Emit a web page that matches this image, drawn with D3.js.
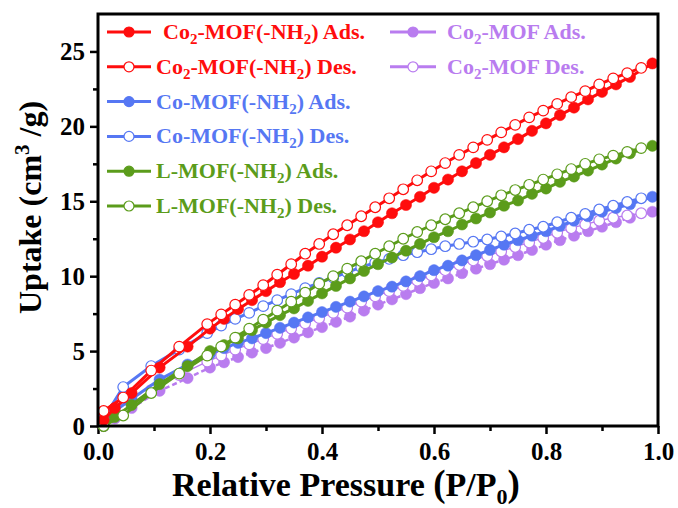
<!DOCTYPE html>
<html>
<head>
<meta charset="utf-8">
<script src="https://cdn.jsdelivr.net/npm/d3@7"></script>
<style>
  body { margin: 0; background: #fff; }
  svg text { font-family: "Liberation Serif", "Times New Roman", serif; font-weight: bold; }
</style>
</head>
<body>
<svg id="svg" width="678" height="508"></svg>
<script>
// relative pressure grids (adsorption / desorption branch)
var pAds = [0.01, 0.03, 0.06, 0.11, 0.16, 0.2, 0.225, 0.25, 0.275, 0.3, 0.325, 0.35, 0.375, 0.4, 0.425, 0.45, 0.475, 0.5, 0.525, 0.55, 0.575, 0.6, 0.625, 0.65, 0.675, 0.7, 0.725, 0.75, 0.775, 0.8, 0.825, 0.85, 0.875, 0.9, 0.925, 0.95, 0.99];
var pDes = [0.01, 0.045, 0.095, 0.145, 0.195, 0.22, 0.245, 0.27, 0.295, 0.32, 0.345, 0.37, 0.395, 0.42, 0.445, 0.47, 0.495, 0.52, 0.545, 0.57, 0.595, 0.62, 0.645, 0.67, 0.695, 0.72, 0.745, 0.77, 0.795, 0.82, 0.845, 0.87, 0.895, 0.92, 0.945, 0.97];

// uptake, cm3/g
var co2NH2Ads = [0.4, 1.2, 2.2, 3.9, 5.3, 6.5, 7.15, 7.8, 8.4, 9.0, 9.6, 10.15, 10.7, 11.3, 11.9, 12.45, 13.0, 13.6, 14.2, 14.75, 15.3, 15.9, 16.45, 17.0, 17.55, 18.1, 18.6, 19.15, 19.7, 20.2, 20.75, 21.25, 21.8, 22.3, 22.8, 23.3, 24.2];
var co2NH2Des = [1.0, 1.9, 3.7, 5.3, 6.8, 7.45, 8.1, 8.75, 9.4, 10.1, 10.8, 11.5, 12.15, 12.8, 13.4, 14.0, 14.6, 15.2, 15.8, 16.4, 17.0, 17.55, 18.1, 18.6, 19.1, 19.6, 20.1, 20.6, 21.05, 21.5, 21.95, 22.35, 22.8, 23.2, 23.55, 23.9];
var coNH2Ads = [0.3, 1.0, 1.8, 3.1, 4.1, 4.8, 5.2, 5.55, 5.85, 6.2, 6.55, 6.9, 7.25, 7.6, 7.95, 8.3, 8.65, 9.0, 9.3, 9.65, 10.0, 10.4, 10.7, 11.05, 11.4, 11.75, 12.1, 12.4, 12.7, 13.0, 13.35, 13.7, 14.0, 14.3, 14.55, 14.8, 15.3];
var coNH2Des = [0.5, 2.6, 4.0, 5.1, 6.2, 6.7, 7.15, 7.55, 8.0, 8.4, 8.8, 9.2, 9.55, 9.9, 10.25, 10.6, 10.9, 11.15, 11.4, 11.6, 11.8, 12.0, 12.15, 12.3, 12.45, 12.65, 12.85, 13.1, 13.3, 13.6, 13.9, 14.15, 14.45, 14.7, 14.95, 15.2];
var lNH2Ads = [0.0, 0.6, 1.4, 2.8, 4.0, 5.0, 5.4, 5.85, 6.4, 6.9, 7.4, 7.85, 8.35, 8.85, 9.35, 9.85, 10.35, 10.8, 11.25, 11.7, 12.15, 12.6, 13.0, 13.45, 13.85, 14.25, 14.7, 15.05, 15.5, 15.85, 16.3, 16.65, 17.05, 17.45, 17.85, 18.2, 18.7];
var lNH2Des = [0.0, 0.7, 2.2, 3.5, 4.7, 5.3, 5.9, 6.5, 7.1, 7.7, 8.3, 8.9, 9.5, 10.0, 10.5, 11.0, 11.5, 12.0, 12.5, 12.95, 13.4, 13.8, 14.2, 14.6, 15.0, 15.4, 15.75, 16.1, 16.45, 16.8, 17.15, 17.5, 17.8, 18.05, 18.3, 18.55];
var co2Ads = [0.0, 0.5, 1.2, 2.35, 3.2, 3.9, 4.25, 4.6, 4.9, 5.2, 5.55, 5.9, 6.25, 6.6, 6.95, 7.3, 7.7, 8.1, 8.45, 8.8, 9.2, 9.55, 9.85, 10.2, 10.5, 10.8, 11.1, 11.4, 11.75, 12.1, 12.4, 12.7, 13.0, 13.3, 13.6, 13.9, 14.3];
var co2Des = [0.0, 1.1, 2.4, 3.4, 4.3, 4.7, 5.1, 5.45, 5.8, 6.15, 6.5, 6.85, 7.2, 7.55, 7.9, 8.3, 8.65, 9.0, 9.35, 9.7, 10.05, 10.4, 10.75, 11.05, 11.35, 11.65, 11.95, 12.25, 12.55, 12.9, 13.2, 13.45, 13.7, 13.9, 14.05, 14.2];

var xTicks = [0.0, 0.2, 0.4, 0.6, 0.8, 1.0];
var yTicks = [0, 5, 10, 15, 20, 25];

// 颜色
var RED = '#ff0d0d', BLUE = '#5677f3', GREEN = '#5b9c1b', PURPLE = '#b97cef';

var series = [
  {name: 'co2Ads', p: pAds, u: co2Ads, color: PURPLE, open: false, width: 2.5, dash: '5,3'},
  {name: 'co2Des', p: pDes, u: co2Des, color: PURPLE, open: true, width: 1.3, dash: null},
  {name: 'coNH2Ads', p: pAds, u: coNH2Ads, color: BLUE, open: false, width: 3, dash: null},
  {name: 'coNH2Des', p: pDes, u: coNH2Des, color: BLUE, open: true, width: 3, dash: null},
  {name: 'lNH2Ads', p: pAds, u: lNH2Ads, color: GREEN, open: false, width: 3, dash: null},
  {name: 'lNH2Des', p: pDes, u: lNH2Des, color: GREEN, open: true, width: 3, dash: null},
  {name: 'co2NH2Ads', p: pAds, u: co2NH2Ads, color: RED, open: false, width: 3, dash: null},
  {name: 'co2NH2Des', p: pDes, u: co2NH2Des, color: RED, open: true, width: 3, dash: null}
];

// 图例: 文字片段 [text, isSub]
var legendItems = [
  {parts: [['Co', 0], ['2', 1], ['-MOF(-NH', 0], ['2', 1], [') Ads.', 0]], color: RED, open: false, col: 0, row: 0, lead: true},
  {parts: [['Co', 0], ['2', 1], ['-MOF(-NH', 0], ['2', 1], [') Des.', 0]], color: RED, open: true, col: 0, row: 1},
  {parts: [['Co-MOF(-NH', 0], ['2', 1], [') Ads.', 0]], color: BLUE, open: false, col: 0, row: 2},
  {parts: [['Co-MOF(-NH', 0], ['2', 1], [') Des.', 0]], color: BLUE, open: true, col: 0, row: 3},
  {parts: [['L-MOF(-NH', 0], ['2', 1], [') Ads.', 0]], color: GREEN, open: false, col: 0, row: 4},
  {parts: [['L-MOF(-NH', 0], ['2', 1], [') Des.', 0]], color: GREEN, open: true, col: 0, row: 5},
  {parts: [['Co', 0], ['2', 1], ['-MOF Ads.', 0]], color: PURPLE, open: false, col: 1, row: 0},
  {parts: [['Co', 0], ['2', 1], ['-MOF Des.', 0]], color: PURPLE, open: true, col: 1, row: 1}
];

var svg = d3.select('#svg');
var plotL = 98, plotR = 658, plotT = 14, plotB = 426;

var x = d3.scaleLinear().domain([0, 1]).range([plotL, plotR]);
var y = d3.scaleLinear().domain([0, 27.5]).range([plotB, plotT]);

/*************** 坐标轴 ***************/
var minorX = [0.1, 0.3, 0.5, 0.7, 0.9];
var minorY = [2.5, 7.5, 12.5, 17.5, 22.5];

var axB = svg.append('g').attr('transform', 'translate(0,' + plotB + ')')
  .call(d3.axisBottom(x).tickValues(xTicks).tickFormat(d3.format('.1f')).tickSize(8).tickPadding(6));
svg.append('g').attr('transform', 'translate(0,' + plotB + ')')
  .call(d3.axisBottom(x).tickValues(minorX).tickFormat('').tickSize(5));
var axL = svg.append('g').attr('transform', 'translate(' + plotL + ',0)')
  .call(d3.axisLeft(y).tickValues(yTicks).tickFormat(d3.format('d')).tickSize(8).tickPadding(5));
svg.append('g').attr('transform', 'translate(' + plotL + ',0)')
  .call(d3.axisLeft(y).tickValues(minorY).tickFormat('').tickSize(5));

svg.selectAll('.domain').remove();
svg.selectAll('.tick line').attr('stroke', '#000').attr('stroke-width', 2.5);
svg.selectAll('.tick text').attr('fill', '#000').style('font-size', '25px');
axB.selectAll('.tick text').attr('dy', '0.78em');
axL.selectAll('.tick text').attr('dy', '0.34em');

/*************** 曲线 ***************/
var line = d3.line().x(function(d) { return x(d[0]); }).y(function(d) { return y(d[1]); });
var plot = svg.append('g');

series.forEach(function(s) {
  var pts = s.p.map(function(p, i) { return [p, s.u[i]]; });
  plot.append('path').datum(pts).attr('d', line)
    .attr('fill', 'none').attr('stroke', s.color).attr('stroke-width', s.width)
    .attr('stroke-dasharray', s.dash);
  plot.append('g').selectAll('circle').data(pts).enter().append('circle')
    .attr('cx', function(d) { return x(d[0]); })
    .attr('cy', function(d) { return y(d[1]); })
    .attr('r', s.open ? 5.3 : 5.6)
    .attr('fill', s.open ? '#fff' : s.color)
    .attr('stroke', s.color)
    .attr('stroke-width', s.open ? 1.2 : 0.5);
});

// frame
svg.append('rect').attr('x', plotL).attr('y', plotT)
  .attr('width', plotR - plotL).attr('height', plotB - plotT)
  .attr('fill', 'none').attr('stroke', '#000').attr('stroke-width', 3);

/*************** 图例 ***************/
var leg = svg.append('g');
legendItems.forEach(function(it) {
  var cy = 32 + it.row * 34.8;
  var x0 = it.col === 0 ? 107 : 390;
  var x1 = it.col === 0 ? 151 : 436;
  leg.append('line').attr('x1', x0).attr('x2', x1).attr('y1', cy).attr('y2', cy)
    .attr('stroke', it.color).attr('stroke-width', 3);
  leg.append('circle').attr('cx', (x0 + x1) / 2).attr('cy', cy).attr('r', 5)
    .attr('fill', it.open ? '#fff' : it.color).attr('stroke', it.color).attr('stroke-width', 1.2);
  var tx = it.col === 0 ? (it.lead ? 163 : 156) : 447;
  var t = leg.append('text').attr('x', tx).attr('y', cy + 7)
    .attr('fill', it.color).style('font-size', '22px');
  it.parts.forEach(function(pt, i) {
    var ts = t.append('tspan').text(pt[0]);
    if (pt[1]) ts.style('font-size', '15px').attr('dy', 5);
    else if (i > 0) ts.attr('dy', -5);
  });
});

/*************** 轴标题 ***************/
var xt = svg.append('text').attr('x', 172).attr('y', 496).attr('fill', '#000').style('font-size', '34px');
xt.append('tspan').text('Relative Pressure ');
xt.append('tspan').text('(').style('font-size', '37px');
xt.append('tspan').text('P/P');
xt.append('tspan').text('0').style('font-size', '22px').attr('dy', 8);
xt.append('tspan').text(')').style('font-size', '37px').attr('dy', -8);

var yt = svg.append('text').attr('transform', 'translate(41,314) rotate(-90)')
  .attr('fill', '#000').style('font-size', '32px');
yt.append('tspan').text('Uptake (cm');
yt.append('tspan').text('3').style('font-size', '21px').attr('dy', -12);
yt.append('tspan').text(' /g)').attr('dy', 12);
</script>
</body>
</html>
